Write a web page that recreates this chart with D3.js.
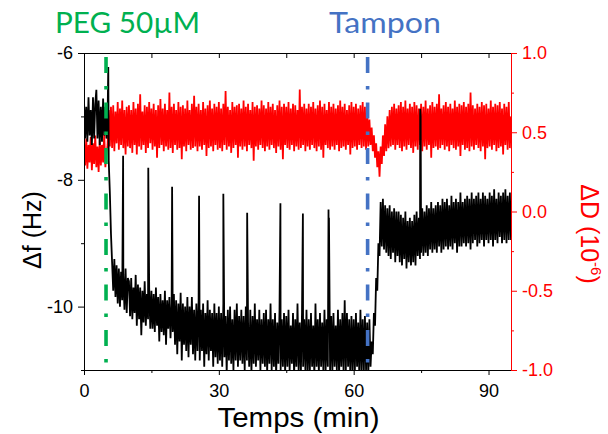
<!DOCTYPE html>
<html><head><meta charset="utf-8">
<script src="https://cdn.jsdelivr.net/npm/d3@7"></script>
<style>body{margin:0;background:#fff}svg{display:block}</style>
</head><body>
<svg id="c" width="608" height="434"></svg>
<script>
// ---- data ----
const timeStep = 0.25; // minutes between samples (t = 0 ... 95)
const freqShift = [ // Δf (Hz)
-6.75,-7.35,-6.85,-7.4,-6.7,-7.3,-6.9,-7.45,-6.7,-7.35,-6.8,-6.58,-7.35,-6.75,-7.45,-6.85,-7.4,-6.72,-7.3,-6.85,
-7.35,-7.0,-7.7,-8.2,-8.85,-9.3,-9.75,-9.25,-9.85,-9.35,-9.95,-9.4,-10.0,-9.45,-9.9,-9.5,-10.05,-9.4,-10.1,-9.55,
-9.6,-10.15,-9.55,-10.2,-9.7,-10.1,-9.5,-10.3,-9.65,-10.2,-9.7,-10.45,-9.75,-10.25,-9.6,-10.3,-9.8,-10.2,-9.7,-10.35,
-9.75,-10.35,-9.8,-10.4,-9.7,-10.3,-9.85,-10.55,-9.8,-10.4,-9.9,-10.45,-9.75,-10.6,-9.9,-10.35,-9.85,-10.5,-9.95,-10.4,
-9.8,-10.6,-9.9,-10.75,-9.95,-10.55,-9.78,-10.85,-9.95,-10.6,-10.0,-10.7,-9.85,-10.8,-10.0,-10.6,-9.85,-10.75,-10.05,-10.85,
-9.95,-10.7,-9.9,-10.85,-10.05,-10.7,-9.95,-10.95,-10.1,-10.75,-9.9,-10.85,-10.05,-10.7,-10.1,-10.95,-9.95,-10.8,-10.1,-10.9,
-10.0,-10.85,-10.1,-10.95,-9.95,-10.8,-10.15,-11.05,-10.05,-10.85,-10.0,-10.9,-10.2,-11.0,-10.05,-10.85,-9.95,-10.95,-10.15,-10.85,
-10.05,-10.9,-10.15,-11.0,-10.0,-10.85,-10.25,-10.95,-10.05,-11.05,-10.15,-10.9,-9.95,-10.95,-10.2,-10.85,-10.05,-11.0,-10.2,-10.9,
-10.1,-10.95,-10.05,-11.05,-10.2,-10.9,-9.95,-11.0,-10.2,-10.95,-10.1,-11.1,-10.25,-10.9,-10.05,-11.0,-10.2,-10.95,-10.1,-11.05,
-10.15,-10.95,-10.05,-11.0,-10.3,-10.9,-10.1,-11.1,-10.2,-10.95,-9.95,-11.0,-10.25,-11.05,-10.1,-10.95,-10.2,-11.0,-10.05,-11.1,
-10.2,-11.0,-10.1,-10.95,-10.3,-11.1,-9.95,-10.95,-10.2,-11.05,-10.1,-10.95,-10.25,-11.0,-10.05,-11.05,-10.2,-10.95,-10.15,-11.0,
-10.15,-11.05,-10.1,-10.95,-10.3,-11.0,-10.05,-11.1,-10.2,-10.95,-10.1,-11.05,-9.9,-11.0,-10.1,-10.95,-10.2,-11.1,-10.15,-11.0,
-10.2,-11.05,-10.1,-10.95,-10.25,-11.1,-10.05,-11.0,-10.2,-11.05,-10.15,-11.0,-10.25,-11.1,-10.2,-10.95,-10.55,-10.75,-10.1,-10.3,
-9.55,-9.75,-9.0,-9.2,-8.35,-9.05,-8.3,-9.1,-8.4,-9.15,-8.45,-9.2,-8.4,-9.25,-8.5,-9.15,-8.45,-9.3,-8.5,-9.2,
-8.5,-9.3,-8.55,-9.35,-8.6,-9.25,-8.5,-9.4,-8.65,-9.3,-8.6,-9.35,-8.65,-9.3,-8.55,-9.35,-8.5,-9.2,-8.6,-9.25,
-9.15,-8.45,-9.2,-8.5,-9.15,-8.4,-9.2,-8.45,-9.1,-8.35,-9.15,-8.45,-9.1,-8.4,-9.15,-8.35,-9.05,-8.4,-9.15,-8.3,
-9.1,-8.35,-9.05,-8.3,-9.1,-8.4,-9.05,-8.25,-9.1,-8.35,-9.0,-8.3,-9.15,-8.35,-9.05,-8.2,-9.05,-8.35,-9.0,-8.3,
-9.05,-8.25,-9.0,-8.3,-9.1,-8.2,-9.0,-8.3,-8.95,-8.25,-9.05,-8.2,-9.0,-8.3,-8.95,-8.2,-9.05,-8.25,-8.95,-8.3,
-9.0,-8.2,-8.95,-8.25,-9.05,-8.15,-8.95,-8.3,-9.0,-8.2,-8.9,-8.25,-9.0,-8.2,-8.95,-8.15,-9.0,-8.25,-8.95,-8.2,
-8.95
];
const dissipation = [ // ΔD (10^-6)
0.44,0.29,0.46,0.27,0.42,0.31,0.47,0.26,0.43,0.30,0.48,0.28,0.41,0.25,0.45,0.29,0.42,0.31,0.49,0.28,
0.36,0.42,0.64,0.41,0.66,0.40,0.67,0.38,0.63,0.43,0.69,0.39,0.65,0.42,0.70,0.40,0.64,0.36,0.66,0.41,
0.67,0.40,0.64,0.37,0.69,0.42,0.65,0.36,0.68,0.41,0.74,0.39,0.63,0.42,0.67,0.37,0.66,0.40,0.69,0.43,
0.65,0.39,0.68,0.41,0.64,0.34,0.67,0.40,0.71,0.42,0.65,0.38,0.68,0.41,0.64,0.39,0.75,0.40,0.66,0.37,
0.68,0.42,0.64,0.39,0.69,0.40,0.66,0.33,0.67,0.41,0.65,0.38,0.70,0.42,0.64,0.39,0.68,0.40,0.73,0.41,
0.66,0.38,0.68,0.41,0.64,0.39,0.69,0.42,0.65,0.35,0.67,0.40,0.70,0.41,0.65,0.38,0.68,0.42,0.66,0.39,
0.69,0.40,0.65,0.38,0.68,0.42,0.76,0.39,0.66,0.41,0.64,0.37,0.69,0.40,0.66,0.42,0.67,0.34,0.68,0.41,
0.65,0.39,0.70,0.41,0.66,0.38,0.68,0.42,0.64,0.40,0.69,0.32,0.66,0.41,0.67,0.39,0.65,0.42,0.70,0.40,
0.67,0.38,0.65,0.41,0.69,0.39,0.66,0.42,0.68,0.40,0.64,0.37,0.67,0.41,0.70,0.39,0.66,0.33,0.68,0.42,
0.66,0.40,0.69,0.39,0.65,0.42,0.68,0.38,0.67,0.41,0.64,0.39,0.77,0.40,0.66,0.42,0.68,0.38,0.65,0.41,
0.68,0.39,0.66,0.42,0.69,0.40,0.65,0.38,0.67,0.41,0.70,0.39,0.66,0.34,0.68,0.42,0.64,0.40,0.69,0.39,
0.66,0.41,0.68,0.39,0.65,0.42,0.67,0.38,0.70,0.40,0.66,0.41,0.68,0.39,0.64,0.42,0.67,0.36,0.69,0.40,
0.66,0.41,0.68,0.39,0.65,0.42,0.67,0.40,0.69,0.41,0.66,0.39,0.64,0.41,0.58,0.42,0.53,0.38,0.48,0.34,
0.43,0.28,0.38,0.22,0.41,0.30,0.48,0.35,0.55,0.38,0.60,0.40,0.64,0.41,0.66,0.42,0.68,0.39,0.65,0.42,
0.67,0.40,0.69,0.38,0.66,0.41,0.70,0.39,0.65,0.42,0.68,0.40,0.66,0.37,0.69,0.41,0.67,0.39,0.65,0.42,
0.68,0.38,0.66,0.41,0.70,0.39,0.65,0.42,0.67,0.34,0.69,0.40,0.66,0.41,0.68,0.39,0.74,0.40,0.65,0.42,
0.67,0.39,0.69,0.41,0.66,0.38,0.68,0.42,0.65,0.40,0.70,0.39,0.66,0.41,0.68,0.35,0.67,0.42,0.69,0.39,
0.66,0.40,0.68,0.38,0.75,0.41,0.67,0.39,0.65,0.42,0.68,0.40,0.66,0.38,0.69,0.41,0.67,0.33,0.68,0.40,
0.65,0.41,0.70,0.39,0.66,0.42,0.68,0.38,0.67,0.40,0.69,0.41,0.65,0.36,0.68,0.42,0.66,0.39,0.69,0.40,
0.60
];
const spikeTimes = [5.4, 8.7, 14.3, 19.6, 25.6, 31.0, 36.3, 43.7, 48.7, 54.4, 54.5, 74.8, 74.9];
const spikePeaks = [-6.22, -7.62, -7.81, -8.11, -8.25, -8.22, -8.52, -8.37, -8.53, -8.47, -8.6, -6.88, -7.0];
const markerTimes = [4.9, 63.1];
const markerLabels = ["PEG 50µM", "Tampon"];
const xTicks = [0, 30, 60, 90];
const xMinorTicks = [15, 45, 75];
const yLeftTicks = [-6, -8, -10];
const yLeftMinorTicks = [-7, -9, -11];
const yRightTicks = [1.0, 0.5, 0.0, -0.5, -1.0];
const yRightMinorTicks = [0.75, 0.25, -0.25, -0.75];

// ---- layout ----
const m = {l: 84, r: 511, t: 53, b: 370};
const x = d3.scaleLinear().domain([0, 95]).range([m.l, m.r]);
const yL = d3.scaleLinear().domain([-11, -6]).range([m.b, m.t]);
const yR = d3.scaleLinear().domain([-1, 1]).range([m.b, m.t]);
const FONT = "'Liberation Sans', Arial, sans-serif";
const svg = d3.select('#c');

svg.append('clipPath').attr('id', 'clip').append('rect')
  .attr('x', m.l).attr('y', m.t).attr('width', m.r - m.l).attr('height', m.b - m.t);
const plot = svg.append('g').attr('clip-path', 'url(#clip)');

const dPts = dissipation.map((v, i) => [i * timeStep, v]);
plot.append('path').datum(dPts)
  .attr('d', d3.line().x(d => x(d[0])).y(d => yR(d[1])))
  .attr('fill', 'none').attr('stroke', '#ff0000').attr('stroke-width', 1.8)
  .attr('stroke-linejoin', 'bevel');

const fPts = freqShift.map((v, i) => [i * timeStep, v])
  .concat(spikeTimes.map((t, i) => [t, spikePeaks[i]]))
  .sort((a, b) => a[0] - b[0]);
plot.append('path').datum(fPts)
  .attr('d', d3.line().x(d => x(d[0])).y(d => yL(d[1])))
  .attr('fill', 'none').attr('stroke', '#000').attr('stroke-width', 1.8)
  .attr('stroke-linejoin', 'bevel');

// marker lines
const markerColors = ['#00b050', '#4472c4'];
svg.selectAll('line.marker').data(markerTimes).join('line')
  .attr('class', 'marker')
  .attr('x1', d => x(d)).attr('x2', d => x(d))
  .attr('y1', m.t + 4).attr('y2', m.b)
  .attr('stroke', (d, i) => markerColors[i]).attr('stroke-width', 3.6)
  .attr('stroke-dasharray', '16,13,3.5,13');

// axes
function style(g, color) {
  g.selectAll('path,line').attr('stroke', color);
  g.selectAll('text').attr('fill', color).style('font-family', FONT).style('font-size', '18px');
}
svg.append('g').attr('transform', `translate(0,${m.b})`)
  .call(d3.axisBottom(x).tickValues(xTicks).tickSize(5).tickSizeOuter(0).tickPadding(9).tickFormat(d => String(d)))
  .call(g => style(g, '#000'));
svg.append('g').attr('transform', `translate(0,${m.b})`)
  .call(d3.axisBottom(x).tickValues(xMinorTicks).tickSize(3).tickSizeOuter(0).tickFormat(''))
  .call(g => style(g, '#000'));
svg.append('g').attr('transform', `translate(0,${m.t})`)
  .call(d3.axisTop(x).tickValues(xTicks.concat(xMinorTicks)).tickSizeInner(-5).tickSizeOuter(0).tickFormat(''))
  .call(g => style(g, '#000'));
svg.append('g').attr('transform', `translate(${m.l},0)`)
  .call(d3.axisLeft(yL).tickValues(yLeftTicks).tickSize(6).tickSizeOuter(0).tickPadding(5).tickFormat(d => String(d)))
  .call(g => style(g, '#000'));
svg.append('g').attr('transform', `translate(${m.l},0)`)
  .call(d3.axisLeft(yL).tickValues(yLeftMinorTicks).tickSize(3).tickSizeOuter(0).tickFormat(''))
  .call(g => style(g, '#000'));
svg.append('g').attr('transform', `translate(${m.r},0)`)
  .call(d3.axisRight(yR).tickValues(yRightTicks).tickSize(6).tickSizeOuter(0).tickPadding(5).tickFormat(d => d.toFixed(1)))
  .call(g => style(g, '#ff0000'));
svg.append('g').attr('transform', `translate(${m.r},0)`)
  .call(d3.axisRight(yR).tickValues(yRightMinorTicks).tickSize(3).tickSizeOuter(0).tickFormat(''))
  .call(g => style(g, '#ff0000'));

// titles
svg.append('text').attr('x', (m.l + m.r) / 2 + 1).attr('y', 427)
  .attr('text-anchor', 'middle').style('font-family', FONT).style('font-size', '28px')
  .attr('textLength', 162).attr('lengthAdjust', 'spacingAndGlyphs')
  .text('Temps (min)');
svg.append('text').attr('transform', 'translate(41,230) rotate(-90)')
  .attr('text-anchor', 'middle').style('font-family', FONT).style('font-size', '25px')
  .text('Δf (Hz)');
const rt = svg.append('text').attr('transform', 'translate(581,234) rotate(90)')
  .attr('text-anchor', 'middle').attr('fill', '#ff0000')
  .style('font-family', FONT).style('font-size', '25px');
rt.append('tspan').text('ΔD (10');
rt.append('tspan').attr('dy', -10).style('font-size', '15px').text('-6');
rt.append('tspan').attr('dy', 10).text(')');

// marker labels
const labelX = [55, 329];
const labelW = [145, 112];
svg.selectAll('text.mlabel').data(markerLabels).join('text')
  .attr('class', 'mlabel')
  .attr('x', (d, i) => labelX[i]).attr('y', 33)
  .attr('fill', (d, i) => markerColors[i])
  .attr('textLength', (d, i) => labelW[i]).attr('lengthAdjust', 'spacingAndGlyphs')
  .style('font-family', "Lato, 'Open Sans', sans-serif").style('font-size', '29px')
  .text(d => d);
</script>
</body></html>
